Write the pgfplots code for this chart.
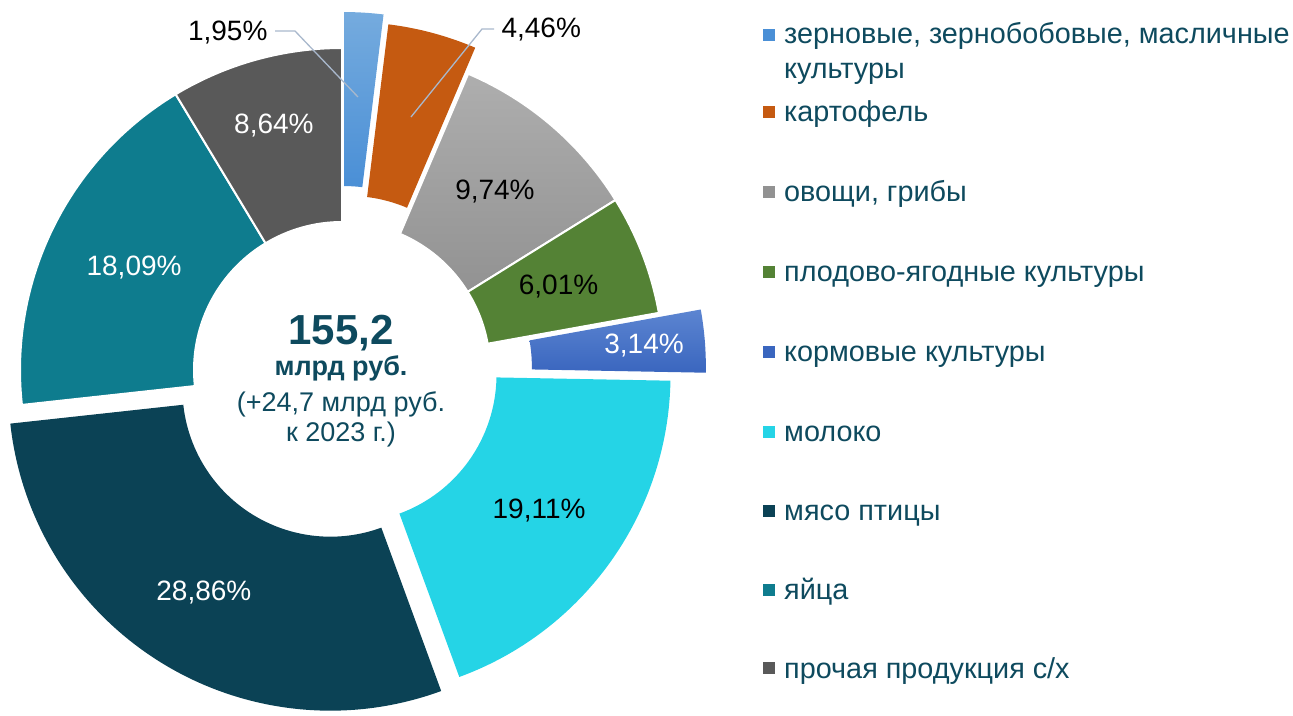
\documentclass[border=0pt]{standalone}
\usepackage{pgfplots}
\pgfplotsset{compat=1.18}
\usepackage{pgfplotstable}
\usepackage{fontspec}
\setmainfont{Liberation Sans}

\definecolor{cGrainT}{HTML}{75ABDE}
\definecolor{cGrainB}{HTML}{4A8FD6}
\definecolor{cPotato}{HTML}{C55A11}
\definecolor{cVegT}{HTML}{AEAEAE}
\definecolor{cVegB}{HTML}{929292}
\definecolor{cFruit}{HTML}{548235}
\definecolor{cFeedT}{HTML}{5C85D1}
\definecolor{cFeedB}{HTML}{3A66BF}
\definecolor{cMilk}{HTML}{25D4E6}
\definecolor{cPoultry}{HTML}{0B4255}
\definecolor{cEggs}{HTML}{0E7C8E}
\definecolor{cOther}{HTML}{595959}
\definecolor{cText}{HTML}{0E4A5E}
\definecolor{cLead}{HTML}{A9B8CC}

\tikzset{
  slice0/.style={top color=cGrainT,bottom color=cGrainB},
  slice1/.style={fill=cPotato},
  slice2/.style={top color=cVegT,bottom color=cVegB,draw=white,line width=2pt},
  slice3/.style={fill=cFruit,draw=white,line width=2pt},
  slice4/.style={top color=cFeedT,bottom color=cFeedB},
  slice5/.style={fill=cMilk},
  slice6/.style={fill=cPoultry},
  slice7/.style={fill=cEggs,draw=white,line width=2pt},
  slice8/.style={fill=cOther,draw=white,line width=2pt},
}

% share (%), explode (px), label radius (px), label colour (1 = white)
\pgfplotstableread{
share explode lr lc
1.95 36 0 0
4.46 27 0 0
9.74 0 235 0
6.01 0 232 0
3.14 42 261 1
19.11 8 234 0
28.86 22 240 1
18.09 0 232 1
8.64 0 254 1
}\shares

\begin{document}
\begin{tikzpicture}
\begin{axis}[x=1pt,y=1pt,xmin=0,xmax=1293,ymin=0,ymax=715,
  hide axis,clip=false,scale only axis,anchor=south west,at={(0,0)}]
\pgfplotsextra{
  \gdef\cum{0}
  \foreach \i in {0,...,8} {
    \pgfplotstablegetelem{\i}{share}\of\shares \let\v\pgfplotsretval
    \pgfplotstablegetelem{\i}{explode}\of\shares \let\e\pgfplotsretval
    \pgfplotstablegetelem{\i}{lr}\of\shares \let\lr\pgfplotsretval
    \pgfplotstablegetelem{\i}{lc}\of\shares \let\lc\pgfplotsretval
    \pgfmathsetmacro\aA{90-3.6*\cum}
    \pgfmathsetmacro\newcum{\cum+\v}
    \xdef\cum{\newcum}
    \pgfmathsetmacro\aB{90-3.6*\cum}
    \pgfmathsetmacro\am{(\aA+\aB)/2}
    \pgfmathsetmacro\cx{342+\e*cos(\am)}
    \pgfmathsetmacro\cy{345+\e*sin(\am)}
    \pgfmathsetmacro\pAx{\cx+322*cos(\aA)}
    \pgfmathsetmacro\pAy{\cy+322*sin(\aA)}
    \pgfmathsetmacro\pBx{\cx+148*cos(\aB)}
    \pgfmathsetmacro\pBy{\cy+148*sin(\aB)}
    \path[slice\i] (axis cs:\pAx,\pAy) arc[start angle=\aA,end angle=\aB,radius=322pt]
       -- (axis cs:\pBx,\pBy) arc[start angle=\aB,end angle=\aA,radius=148pt] -- cycle;
    \pgfmathtruncatemacro\haslabel{\lr>0 ? 1 : 0}
    \ifnum\haslabel=1
      \ifnum\lc=1 \def\tc{white}\else\def\tc{black}\fi
      \pgfmathsetmacro\lx{\cx+\lr*cos(\am)}
      \pgfmathsetmacro\ly{\cy+\lr*sin(\am)}
      \node[text=\tc,font=\fontsize{28}{32}\selectfont] at (axis cs:\lx,\ly)
        {\pgfmathprintnumber[fixed,fixed zerofill,precision=2,use comma,assume math mode=true]{\v}\%};
    \fi
  }
}
% outside labels with leader lines
\draw[cLead,line width=1.3pt] (axis cs:275,684) -- (axis cs:295,684) -- (axis cs:358,618);
\draw[cLead,line width=1.3pt] (axis cs:494,686) -- (axis cs:482,686) -- (axis cs:411,598);
\node[anchor=east,font=\fontsize{28}{32}\selectfont] at (axis cs:271,682) {1,95\%};
\node[anchor=west,font=\fontsize{28}{32}\selectfont] at (axis cs:498,685) {4,46\%};
% centre text
\node[anchor=base,text=cText,font=\fontsize{42}{48}\selectfont\bfseries] at (axis cs:341,370) {155,2};
\node[anchor=base,text=cText,font=\fontsize{27}{32}\selectfont\bfseries] at (axis cs:341,339) {млрд руб.};
\node[anchor=base,text=cText,font=\fontsize{27}{32}\selectfont] at (axis cs:341,303) {(+24,7 млрд руб.};
\node[anchor=base,text=cText,font=\fontsize{27}{32}\selectfont] at (axis cs:341,273) {к 2023 г.)};
% legend
\begin{scope}[every node/.style={anchor=base west,text=cText,font=\fontsize{28.8}{35}\selectfont,inner sep=0pt}]
\fill[cGrainB] (axis cs:763,674) rectangle (axis cs:775,686);
\node at (axis cs:784,671) {зерновые, зернобобовые, масличные};
\node at (axis cs:784,636) {культуры};
\fill[cPotato] (axis cs:763,597) rectangle (axis cs:775,609);
\node at (axis cs:784,593) {картофель};
\fill[cVegB] (axis cs:763,517) rectangle (axis cs:775,529);
\node at (axis cs:784,513) {овощи, грибы};
\fill[cFruit] (axis cs:763,437) rectangle (axis cs:775,449);
\node at (axis cs:784,433) {плодово-ягодные культуры};
\fill[cFeedB] (axis cs:763,357) rectangle (axis cs:775,369);
\node at (axis cs:784,353) {кормовые культуры};
\fill[cMilk] (axis cs:763,277) rectangle (axis cs:775,289);
\node at (axis cs:784,273) {молоко};
\fill[cPoultry] (axis cs:763,198) rectangle (axis cs:775,210);
\node at (axis cs:784,194) {мясо птицы};
\fill[cEggs] (axis cs:763,119) rectangle (axis cs:775,131);
\node at (axis cs:784,115) {яйца};
\fill[cOther] (axis cs:763,41) rectangle (axis cs:775,53);
\node at (axis cs:784,37) {прочая продукция с/х};
\end{scope}
\end{axis}
\pgfresetboundingbox
\path (0,0) rectangle (1293pt,715pt);
\end{tikzpicture}
\end{document}
